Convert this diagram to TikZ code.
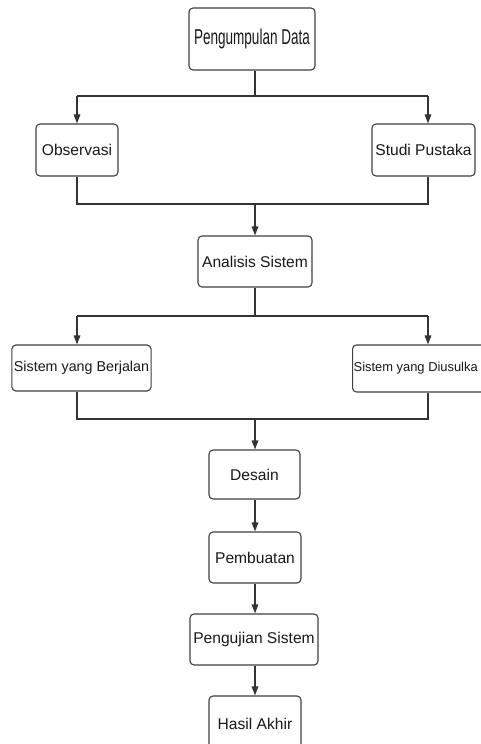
\documentclass[tikz,border=0pt]{standalone}
\usepackage{fontspec}
\setmainfont{Liberation Sans}
\usetikzlibrary{arrows.meta}
\begin{document}
\begin{tikzpicture}[x=1pt,y=-1pt,
  box/.style={draw=black!75,line width=1.1pt,rounded corners=4pt,inner sep=2pt,
    font=\fontsize{15.6}{18}\selectfont,text=black!90},
  conn/.style={draw=black!80,line width=1.5pt},
  arr/.style={conn,-{Triangle[length=9pt,width=6.5pt]}}]
\useasboundingbox (0,0) rectangle (481,744);
\clip (0,0) rectangle (481,744);
\fill[white] (0,0) rectangle (481,744);
% nodes
\node[box,minimum width=126pt,minimum height=62pt] (pd) at (252,39)
  {\fontsize{21.5}{24}\selectfont\scalebox{0.63}[1]{Pengumpulan Data}};
\node[box,minimum width=82pt,minimum height=52pt] (obs) at (77,150) {Observasi};
\node[box,minimum width=103pt,minimum height=52pt] (stu) at (423.5,150) {Studi Pustaka};
\node[box,minimum width=114pt,minimum height=51pt] (ana) at (255,261.5) {Analisis Sistem};
\node[box,minimum width=139pt,minimum height=46pt,font=\fontsize{14.3}{17}\selectfont] (sb) at (81.5,368) {Sistem yang Berjalan};
\node[box,minimum width=150pt,minimum height=47pt,anchor=west] (su) at (352,368.5) {};
\node[font=\fontsize{12.9}{16}\selectfont,text=black!90,anchor=west,inner sep=0pt] (sut) at (353.5,368.5) {Sistem yang Diusulka};
\node[box,minimum width=91pt,minimum height=49pt] (des) at (254.5,474.5) {Desain};
\node[box,minimum width=92pt,minimum height=51pt] (pem) at (255,557.5) {Pembuatan};
\node[box,minimum width=128pt,minimum height=51pt] (pen) at (254,639.5) {Pengujian Sistem};
\node[box,minimum width=92pt,minimum height=54pt,text depth=0pt] (has) at (255,723) {\raisebox{-1pt}{Hasil Akhir}};
% bar coordinates
\coordinate (a1) at (255,96);
\coordinate (a1l) at (77,96);
\coordinate (a1r) at (428,96);
\coordinate (a2) at (255,204);
\coordinate (a2l) at (77,204);
\coordinate (a2r) at (428,204);
\coordinate (b1) at (255,316);
\coordinate (b1l) at (77,316);
\coordinate (b1r) at (428,316);
\coordinate (b2) at (255,419);
\coordinate (b2l) at (77,419);
\coordinate (b2r) at (428,419);
% connectors
\draw[conn] (pd.south -| a1) -- (a1);
\draw[conn] (a1l) -- (a1r);
\draw[arr] (a1l) -- (a1l |- obs.north);
\draw[arr] (a1r) -- (a1r |- stu.north);
\draw[conn] (obs.south -| a2l) -- (a2l) -- (a2r) -- (stu.south -| a2r);
\draw[arr] (a2) -- (a2 |- ana.north);
\draw[conn] (ana.south -| b1) -- (b1);
\draw[conn] (b1l) -- (b1r);
\draw[arr] (b1l) -- (b1l |- sb.north);
\draw[arr] (b1r) -- (b1r |- su.north);
\draw[conn] (sb.south -| b2l) -- (b2l) -- (b2r) -- (su.south -| b2r);
\draw[arr] (b2) -- (b2 |- des.north);
\draw[arr] (des.south -| b2) -- (b2 |- pem.north);
\draw[arr] (pem.south -| b2) -- (b2 |- pen.north);
\draw[arr] (pen.south -| b2) -- (b2 |- has.north);
\end{tikzpicture}
\end{document}
